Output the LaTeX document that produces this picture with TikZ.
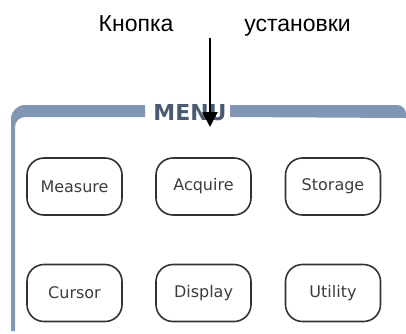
\documentclass[tikz,border=0pt]{standalone}
\usepackage{fontspec}
\setmainfont{DejaVu Sans}
\newfontfamily\capfont{Liberation Sans}
\usetikzlibrary{arrows.meta}

\definecolor{panelblue}{RGB}{128,150,180}
\definecolor{menublue}{RGB}{74,90,112}
\definecolor{keyline}{RGB}{50,50,50}
\definecolor{keytext}{RGB}{60,60,60}

\tikzset{
  keybox/.style={draw=keyline,line width=1.6pt,rounded corners=17pt,
    minimum width=95pt,minimum height=57pt,inner sep=0pt,
    text=keytext,font=\fontsize{16}{19}\selectfont},
  caption/.style={anchor=base,inner sep=0pt,font=\capfont\fontsize{23}{28}\selectfont}
}

\begin{document}
\begin{tikzpicture}[x=1pt,y=-1pt,>={Triangle[length=15pt,width=15pt]}]
  \useasboundingbox (0,0) rectangle (406,333);
  % panel frame
  \fill[panelblue] (11,331) -- (11,119) arc[start angle=180,end angle=270,radius=14]
    -- (145,105) -- (145,117) -- (25,117) arc[start angle=270,end angle=180,radius=10]
    -- (15,331) -- cycle;
  \fill[panelblue] (230,105) -- (397,105) to[out=0,in=90] (406,114)
    -- (406,118) -- (230,117) -- cycle;
  \node[inner sep=0pt,anchor=base,text=menublue,font=\bfseries\fontsize{22}{26}\selectfont]
    (menu) at (190,120) {MENU};
  % keys
  \node[keybox] (measure) at (74.5,186.5) {Measure};
  \node[keybox] (acquire) at (203.5,186.5) {Acquire};
  \node[keybox] (storage) at (333,186.5) {Storage};
  \node[keybox] (cursor) at (74.5,293) {Cursor};
  \node[keybox] (display) at (203.5,293) {Display};
  \node[keybox] (utility) at (333,293) {Utility};
  % caption and pointer
  \node[caption] (knopka) at (136,31) {Кнопка};
  \node[caption] (ustanovki) at (297.5,31) {установки};
  \coordinate (tail) at (210,38);
  \coordinate (tip) at (210,127);
  \draw[->,line width=2pt] (tail) -- (tip);
\end{tikzpicture}
\end{document}
